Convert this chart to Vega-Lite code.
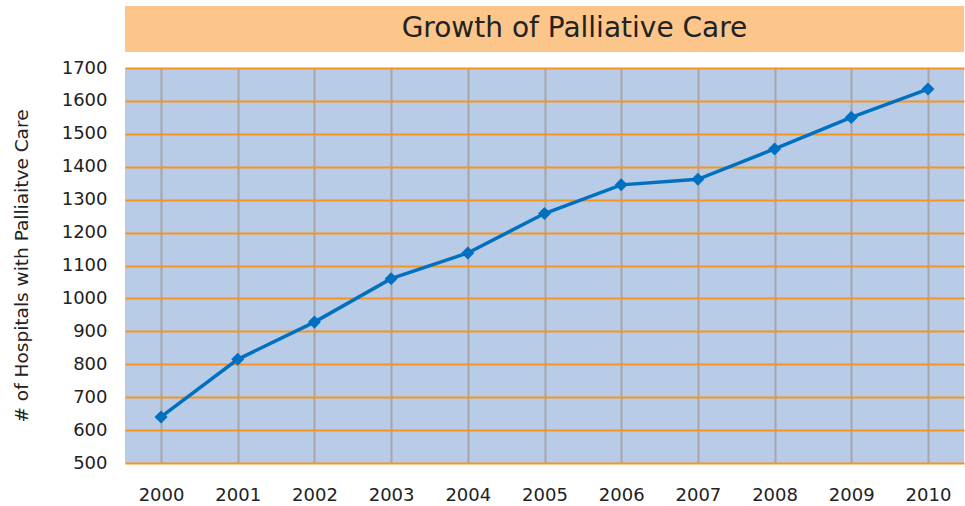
{
  "$schema": "https://vega.github.io/schema/vega-lite/v6.json",
  "padding": {"left": 12, "top": 6, "right": 2, "bottom": 0},
  "background": "white",
  "spacing": 7,
  "config": {
    "font": "DejaVu Sans",
    "axis": {"labelFont": "DejaVu Sans", "titleFont": "DejaVu Sans", "labelColor": "#222222", "titleColor": "#222222"}
  },
  "vconcat": [
    {
      "width": 839,
      "height": 46,
      "view": {"fill": "#FCC68A", "stroke": null},
      "data": {"values": [{"title": "Growth of Palliative Care"}]},
      "mark": {"type": "text", "fontSize": 28, "color": "#222222", "baseline": "middle", "align": "center", "font": "DejaVu Sans", "dx": 30},
      "encoding": {"text": {"field": "title"}}
    },
    {
      "width": 839,
      "height": 395,
      "view": {"fill": "#B8CCE8", "stroke": null},
      "data": {"values": [
        {"year": "2000", "hospitals": 640},
        {"year": "2001", "hospitals": 815},
        {"year": "2002", "hospitals": 928},
        {"year": "2003", "hospitals": 1060},
        {"year": "2004", "hospitals": 1138},
        {"year": "2005", "hospitals": 1258},
        {"year": "2006", "hospitals": 1345},
        {"year": "2007", "hospitals": 1362},
        {"year": "2008", "hospitals": 1454},
        {"year": "2009", "hospitals": 1550},
        {"year": "2010", "hospitals": 1636}
      ]},
      "mark": {"type": "line", "color": "#0070C0", "strokeWidth": 3.5,
        "point": {"shape": "diamond", "size": 170, "filled": true, "color": "#0070C0"}},
      "encoding": {
        "x": {"field": "year", "type": "ordinal",
          "scale": {"type": "point", "padding": 0.47},
          "axis": {"title": null, "labelAngle": 0, "labelFontSize": 18, "labelPadding": 23, "ticks": false, "domain": false,
            "grid": true, "gridColor": "#A6A6A6", "gridWidth": 2, "gridOpacity": 1}},
        "y": {"field": "hospitals", "type": "quantitative",
          "scale": {"domain": [500, 1700], "nice": false, "zero": false},
          "axis": {"title": "# of Hospitals with Palliaitve Care", "titleFontSize": 18.5, "titleFontWeight": "normal", "titlePadding": 29.5,
            "labelFontSize": 18, "labelPadding": 18, "ticks": false, "domain": false, "format": "d",
            "values": [500, 600, 700, 800, 900, 1000, 1100, 1200, 1300, 1400, 1500, 1600, 1700],
            "grid": true, "gridColor": "#F7941D", "gridWidth": 2, "gridOpacity": 1}}
      }
    }
  ]
}
